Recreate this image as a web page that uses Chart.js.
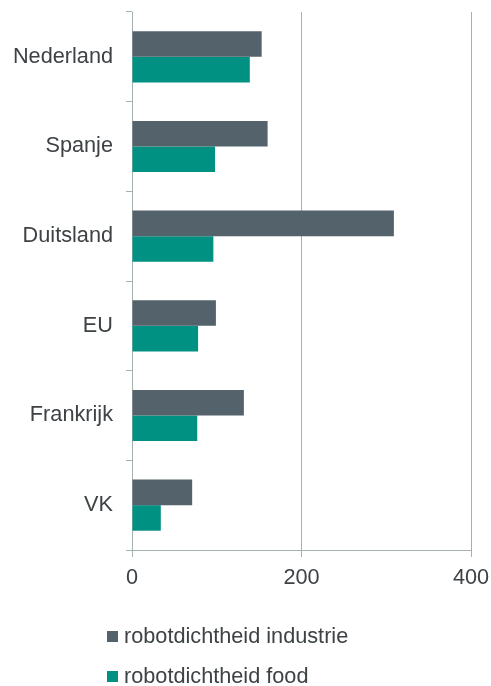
<!DOCTYPE html>
<html>
<head>
<meta charset="utf-8">
<script src="https://cdn.jsdelivr.net/npm/chart.js@4"></script>
<style>
  html, body { margin: 0; padding: 0; background: #ffffff; }
  #wrap { position: relative; width: 491px; height: 686px; }
  canvas { position: absolute; left: 0; top: 0; }
  .leg { position: absolute; left: 107px; height: 24px; display: flex; align-items: center;
         font-family: "Liberation Sans", Arial, sans-serif; font-size: 21.7px; color: #3d4245; white-space: nowrap; }
  .leg .box { width: 11px; height: 11px; margin-right: 6px; flex: none; }
</style>
</head>
<body>
<div id="wrap">
  <canvas id="c" width="491" height="686"></canvas>
  <div id="legend"></div>
</div>
<script>
const categories = ["Nederland", "Spanje", "Duitsland", "EU", "Frankrijk", "VK"];
const seriesNames = ["robotdichtheid industrie", "robotdichtheid food"];
const industrieValues = [153, 160, 309, 99, 132, 71];
const foodValues = [139, 98, 96, 78, 77, 34];
const xTicks = [0, 200, 400];

const colors = ["#53626b", "#009182"];
const axisColor = "#a3b2ae";
const textColor = "#3d4245";
const fontFamily = '"Liberation Sans", Arial, sans-serif';

const datasets = [
  { label: seriesNames[0], data: industrieValues, backgroundColor: colors[0], borderWidth: 0 },
  { label: seriesNames[1], data: foodValues, backgroundColor: colors[1], borderWidth: 0 }
];

function zeroPad(s) {
  s.paddingTop = 0; s.paddingBottom = 0; s.paddingLeft = 0; s.paddingRight = 0;
}

new Chart(document.getElementById("c"), {
  type: "bar",
  data: { labels: categories, datasets: datasets },
  options: {
    indexAxis: "y",
    responsive: false,
    animation: false,
    devicePixelRatio: 1,
    categoryPercentage: 0.57,
    barPercentage: 1,
    layout: { padding: { top: 12, right: 20, bottom: 96, left: 0 } },
    plugins: { legend: { display: false }, tooltip: { enabled: false } },
    scales: {
      y: {
        type: "category",
        offset: true,
        grid: { offset: true, drawOnChartArea: false, drawTicks: true, tickLength: 6, color: axisColor, lineWidth: 1 },
        border: { color: axisColor, width: 1 },
        ticks: { color: textColor, font: { family: fontFamily, size: 21.7 }, padding: 13 },
        afterFit: (s) => { s.width = 132; zeroPad(s); }
      },
      x: {
        min: 0,
        max: 400,
        afterBuildTicks: (s) => { s.ticks = xTicks.map(v => ({ value: v })); },
        grid: { color: axisColor, lineWidth: 1, tickLength: 7 },
        border: { color: axisColor, width: 1 },
        ticks: { color: textColor, font: { family: fontFamily, size: 21.7 }, padding: 8 },
        afterFit: (s) => { s.height = 40; zeroPad(s); }
      }
    }
  }
});

const legendEl = document.getElementById("legend");
const legendTops = [624, 664];
seriesNames.forEach((name, i) => {
  const item = document.createElement("div");
  item.className = "leg";
  item.style.top = legendTops[i] + "px";
  const box = document.createElement("span");
  box.className = "box";
  box.style.background = colors[i];
  const txt = document.createElement("span");
  txt.textContent = name;
  item.appendChild(box);
  item.appendChild(txt);
  legendEl.appendChild(item);
});
</script>
</body>
</html>
